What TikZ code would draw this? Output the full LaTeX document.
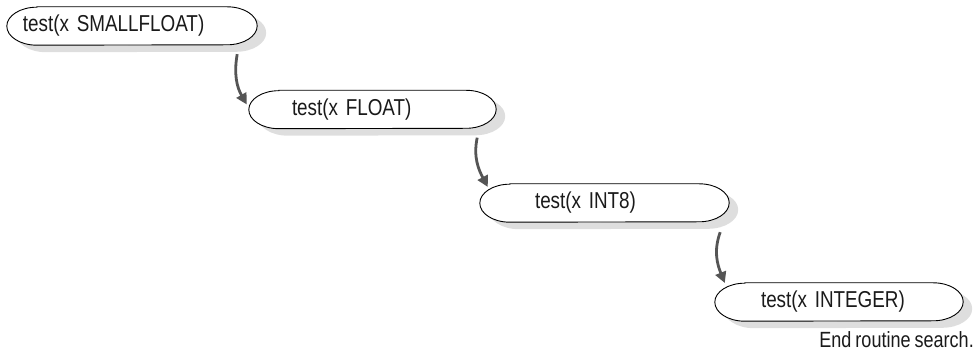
\documentclass[tikz,border=0pt]{standalone}
\usepackage{fontspec}
\setmainfont{Liberation Sans}[FakeStretch=0.82,WordSpace=0.8]
\usetikzlibrary{arrows.meta,backgrounds}
\definecolor{arrowc}{HTML}{555555}
\definecolor{shadowc}{HTML}{DEDEDE}
\definecolor{txtc}{HTML}{1A1A1A}
\newcommand\capsulepath[3]{([xshift=30pt+#2,yshift=#3]#1.north west) -- ([xshift=-30pt+#2,yshift=#3]#1.north east) arc[start angle=90,end angle=-90,x radius=30pt,y radius=19pt] -- ([xshift=30pt+#2,yshift=#3]#1.south west) arc[start angle=270,end angle=90,x radius=30pt,y radius=19pt] -- cycle}
\tikzset{
  capnode/.style={rectangle, inner xsep=0pt, inner ysep=0pt, minimum height=38pt,
    text width=#1, minimum width=#1, align=left, text=txtc,
    font=\fontsize{23pt}{27pt}\selectfont},
  indent/.style={execute at begin node={\hspace*{#1}}},
  conn/.style={draw=arrowc, line width=2.8pt, -{Triangle[length=11pt,width=11pt]}},
  capshadow/.style={fill=shadowc},
  capoutline/.style={draw=black, fill=white, line width=0.9pt},
}
\begin{document}
\begin{tikzpicture}[x=1pt,y=1pt]
\useasboundingbox (0,0) rectangle (979,352);
\node[capnode=250pt, indent=16pt] (n1) at (132,326) {test(x SMALLFLOAT)};
\node[capnode=247pt, indent=43pt] (n2) at (372.5,242.5) {test(x FLOAT)};
\node[capnode=249pt, indent=55pt] (n3) at (604.5,149) {test(x INT8)};
\node[capnode=248pt, indent=46pt] (n4) at (839,50) {test(x INTEGER)};
\node[anchor=base east, text=txtc, inner sep=0pt, font=\fontsize{22pt}{26pt}\selectfont] (endtxt) at (974,4) {End routine search.};
\begin{pgfonlayer}{background}
  \foreach \n in {n1,n2,n3,n4}{
    \fill[capshadow] \capsulepath{\n}{9pt}{-7pt};
    \path[capoutline] \capsulepath{\n}{0pt}{0pt};
  }
\end{pgfonlayer}
\draw[conn] ([xshift=-20pt,yshift=-9pt]n1.south east) to[out=260,in=120] ([xshift=-2pt,yshift=5pt]n2.west);
\draw[conn] ([xshift=-19pt,yshift=-9pt]n2.south east) to[out=258,in=118] ([xshift=8pt,yshift=16pt]n3.west);
\draw[conn] ([xshift=-9pt,yshift=-10pt]n3.south east) to[out=250,in=112] ([xshift=10pt,yshift=19pt]n4.west);
\end{tikzpicture}
\end{document}
